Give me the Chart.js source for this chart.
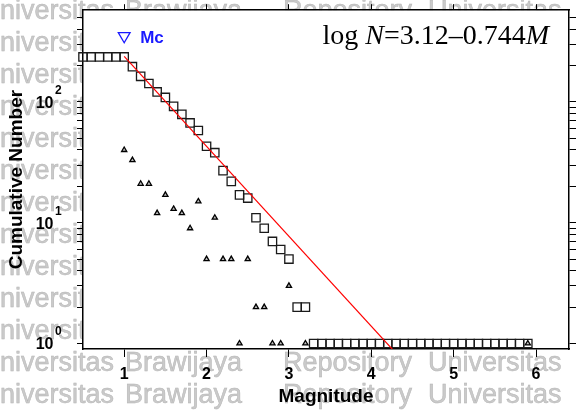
<!DOCTYPE html>
<html>
<head>
<meta charset="utf-8">
<script src="https://cdn.jsdelivr.net/npm/chart.js@4"></script>
<style>
  html, body { margin: 0; padding: 0; background: #fff; }
  #wrap { width: 578px; height: 414px; }
</style>
</head>
<body>
<div id="wrap"><canvas id="gr" width="578" height="414"></canvas></div>
<script>
// magnitude bins (0.1 step) and cumulative number of events N(>=M)
const magnitudes = [0.5, 0.6, 0.7, 0.8, 0.9, 1.0, 1.1, 1.2, 1.3, 1.4, 1.5, 1.6, 1.7, 1.8, 1.9,
    2.0, 2.1, 2.2, 2.3, 2.4, 2.5, 2.6, 2.7, 2.8, 2.9, 3.0, 3.1, 3.2, 3.3, 3.4, 3.5, 3.6, 3.7,
    3.8, 3.9, 4.0, 4.1, 4.2, 4.3, 4.4, 4.5, 4.6, 4.7, 4.8, 4.9, 5.0, 5.1, 5.2, 5.3, 5.4, 5.5,
    5.6, 5.7, 5.8, 5.9];
const cumulativeN = [236, 236, 236, 236, 236, 236, 196, 163, 142, 121, 109, 92, 79, 67, 58,
    43, 38, 27, 22, 17, 16, 11, 9, 7, 6, 5, 2, 2, 1, 1, 1, 1, 1,
    1, 1, 1, 1, 1, 1, 1, 1, 1, 1, 1, 1, 1, 1, 1, 1, 1, 1,
    1, 1, 1, 1];

// non-cumulative count per bin (triangles)
const binM = [1.0, 1.1, 1.2, 1.3, 1.4, 1.5, 1.6, 1.7, 1.8, 1.9, 2.0, 2.1, 2.2, 2.3, 2.4, 2.5,
    2.6, 2.7, 2.8, 2.9, 3.0, 3.2, 5.9];
const binN = [40, 33, 21, 21, 12, 17, 13, 12, 9, 15, 5, 11, 5, 5, 1, 5,
    2, 2, 1, 1, 3, 1, 1];

// fit line log N = 3.12 - 0.744 M, ends
const fitM = [1.0, 4.3];
const fitN = [238, 0.83];

// magnitude of completeness marker
const mcM = [1.0];
const mcN = [352];

const xTicks = [1, 2, 3, 4, 5, 6];
const yTicks = [1, 2, 3, 4, 5, 6, 7, 8, 9, 10, 20, 30, 40, 50, 60, 70, 80, 90, 100, 200, 300, 400, 500];
const yLabelVals = [1, 10, 100];
const yLabelExp = ['0', '1', '2'];

const equationParts = [['log ', false], ['N', true], ['=3.12\u20130.744', false], ['M', true]];
const watermarkWords = ['Universitas', 'Brawijaya', 'Repository', 'Universitas'];
const watermarkX = [-19.5, 125, 283, 428];

const SANS = '"Liberation Sans", Arial, sans-serif';
const SERIF = '"Liberation Serif", "Times New Roman", serif';

const pts = (xs, ys) => xs.map((x, i) => ({ x: x, y: ys[i] }));

const decor = {
    id: 'decor',
    beforeDraw(chart) {
        const { ctx, chartArea: a } = chart;
        ctx.save();
        ctx.fillStyle = '#fff';
        ctx.fillRect(0, 0, chart.width, chart.height);
        // watermark behind the figure
        ctx.font = '27px ' + SANS;
        ctx.fillStyle = '#cacaca';
        ctx.strokeStyle = '#b4b4b4';
        ctx.lineWidth = 0.5;
        ctx.textBaseline = 'alphabetic';
        for (let y = -13.3; y < 440; y += 32) {
            watermarkWords.forEach((w, i) => {
                ctx.fillText(w, watermarkX[i], y);
                ctx.strokeText(w, watermarkX[i], y);
            });
        }
        ctx.fillStyle = '#fff';
        ctx.fillRect(a.left, a.top, a.right - a.left, a.bottom - a.top);
        ctx.restore();
    },
    afterDraw(chart) {
        const ctx = chart.ctx;
        const xs = chart.scales.x, ys = chart.scales.y;
        ctx.save();
        ctx.fillStyle = '#000';
        // 10^n labels
        yLabelVals.forEach((v, i) => {
            const py = ys.getPixelForValue(v);
            ctx.font = 'bold 16px ' + SANS;
            ctx.textAlign = 'right';
            ctx.textBaseline = 'middle';
            ctx.fillText('10', 53.5, py + 1.5);
            ctx.font = 'bold 12px ' + SANS;
            ctx.textAlign = 'left';
            ctx.textBaseline = 'alphabetic';
            ctx.fillText(yLabelExp[i], 55, py - 8);
        });

        // equation, right aligned
        ctx.textBaseline = 'alphabetic';
        ctx.textAlign = 'left';
        let total = 0;
        equationParts.forEach(p => {
            ctx.font = (p[1] ? 'italic ' : '') + '28px ' + SERIF;
            total += ctx.measureText(p[0]).width;
        });
        let ex = 549 - total;
        equationParts.forEach(p => {
            ctx.font = (p[1] ? 'italic ' : '') + '28px ' + SERIF;
            ctx.fillText(p[0], ex, 43.5);
            ex += ctx.measureText(p[0]).width;
        });

        // Mc label next to its marker
        ctx.font = 'bold 17px ' + SANS;
        ctx.fillStyle = '#1a1aff';
        ctx.fillText('Mc', xs.getPixelForValue(mcM[0]) + 16, ys.getPixelForValue(mcN[0]) + 7.3);
        ctx.restore();
    }
};

const tickGrid = (len) => ({
    display: true,
    drawOnChartArea: false,
    drawTicks: true,
    tickLength: len,
    color: '#000',
    tickColor: '#000',
    tickWidth: 1,
    lineWidth: 1
});
const frame = { display: true, color: '#000', width: 1.5 };

new Chart(document.getElementById('gr'), {
    type: 'scatter',
    data: {
        datasets: [{
            label: 'fit',
            data: pts(fitM, fitN),
            showLine: true,
            borderColor: '#ff0000',
            borderWidth: 1.2,
            pointRadius: 0,
            clip: 0
        }, {
            label: 'Mc',
            data: pts(mcM, mcN),
            pointStyle: 'triangle',
            rotation: 180,
            pointRadius: 6.8,
            borderColor: '#1a1aff',
            borderWidth: 1.3,
            backgroundColor: 'rgba(0,0,0,0)',
            clip: false
        }, {
            label: 'non-cumulative',
            data: pts(binM, binN),
            pointStyle: 'triangle',
            pointRadius: 3,
            borderColor: '#000',
            borderWidth: 1.3,
            backgroundColor: '#bbbbbb',
            clip: false
        }, {
            label: 'cumulative',
            data: pts(magnitudes, cumulativeN),
            pointStyle: 'rect',
            pointRadius: 5.9,
            borderColor: '#1a1a1a',
            borderWidth: 1.3,
            backgroundColor: 'rgba(0,0,0,0)',
            clip: false
        }]
    },
    options: {
        responsive: false,
        animation: false,
        devicePixelRatio: 1,
        events: [],
        layout: { padding: 0 },
        plugins: { legend: { display: false }, tooltip: { enabled: false } },
        scales: {
            x: {
                type: 'linear', position: 'bottom', min: 0.5, max: 6.4,
                afterBuildTicks: s => { s.ticks = xTicks.map(v => ({ value: v })); },
                afterFit: s => { s.height = 65; },
                ticks: { color: '#000', font: { family: SANS, size: 16, weight: 'bold' }, padding: 8, autoSkip: false, maxRotation: 0 },
                grid: tickGrid(8),
                border: frame,
                title: { display: true, text: 'Magnitude', color: '#000', font: { family: SANS, size: 19, weight: 'bold' }, padding: { top: 0, bottom: 6 } }
            },
            x2: {
                type: 'linear', position: 'top', min: 0.5, max: 6.4,
                afterBuildTicks: s => { s.ticks = xTicks.map(v => ({ value: v })); },
                afterFit: s => { s.height = 4; },
                ticks: { display: false },
                grid: tickGrid(6),
                border: frame
            },
            y: {
                type: 'logarithmic', position: 'left', min: 0.9, max: 575,
                afterBuildTicks: s => { s.ticks = yTicks.map(v => ({ value: v })); },
                afterFit: s => { s.width = 83; },
                ticks: { callback: () => '', autoSkip: false },
                grid: tickGrid(6),
                border: frame,
                title: { display: true, text: 'Cumulative Number', color: '#000', font: { family: SANS, size: 19, weight: 'bold' }, padding: { top: 5, bottom: 0 } }
            },
            y2: {
                type: 'logarithmic', position: 'right', min: 0.9, max: 575,
                afterBuildTicks: s => { s.ticks = yTicks.map(v => ({ value: v })); },
                afterFit: s => { s.width = 9; },
                ticks: { display: false, autoSkip: false },
                grid: tickGrid(7),
                border: frame
            }
        }
    },
    plugins: [decor]
});
</script>
</body>
</html>
